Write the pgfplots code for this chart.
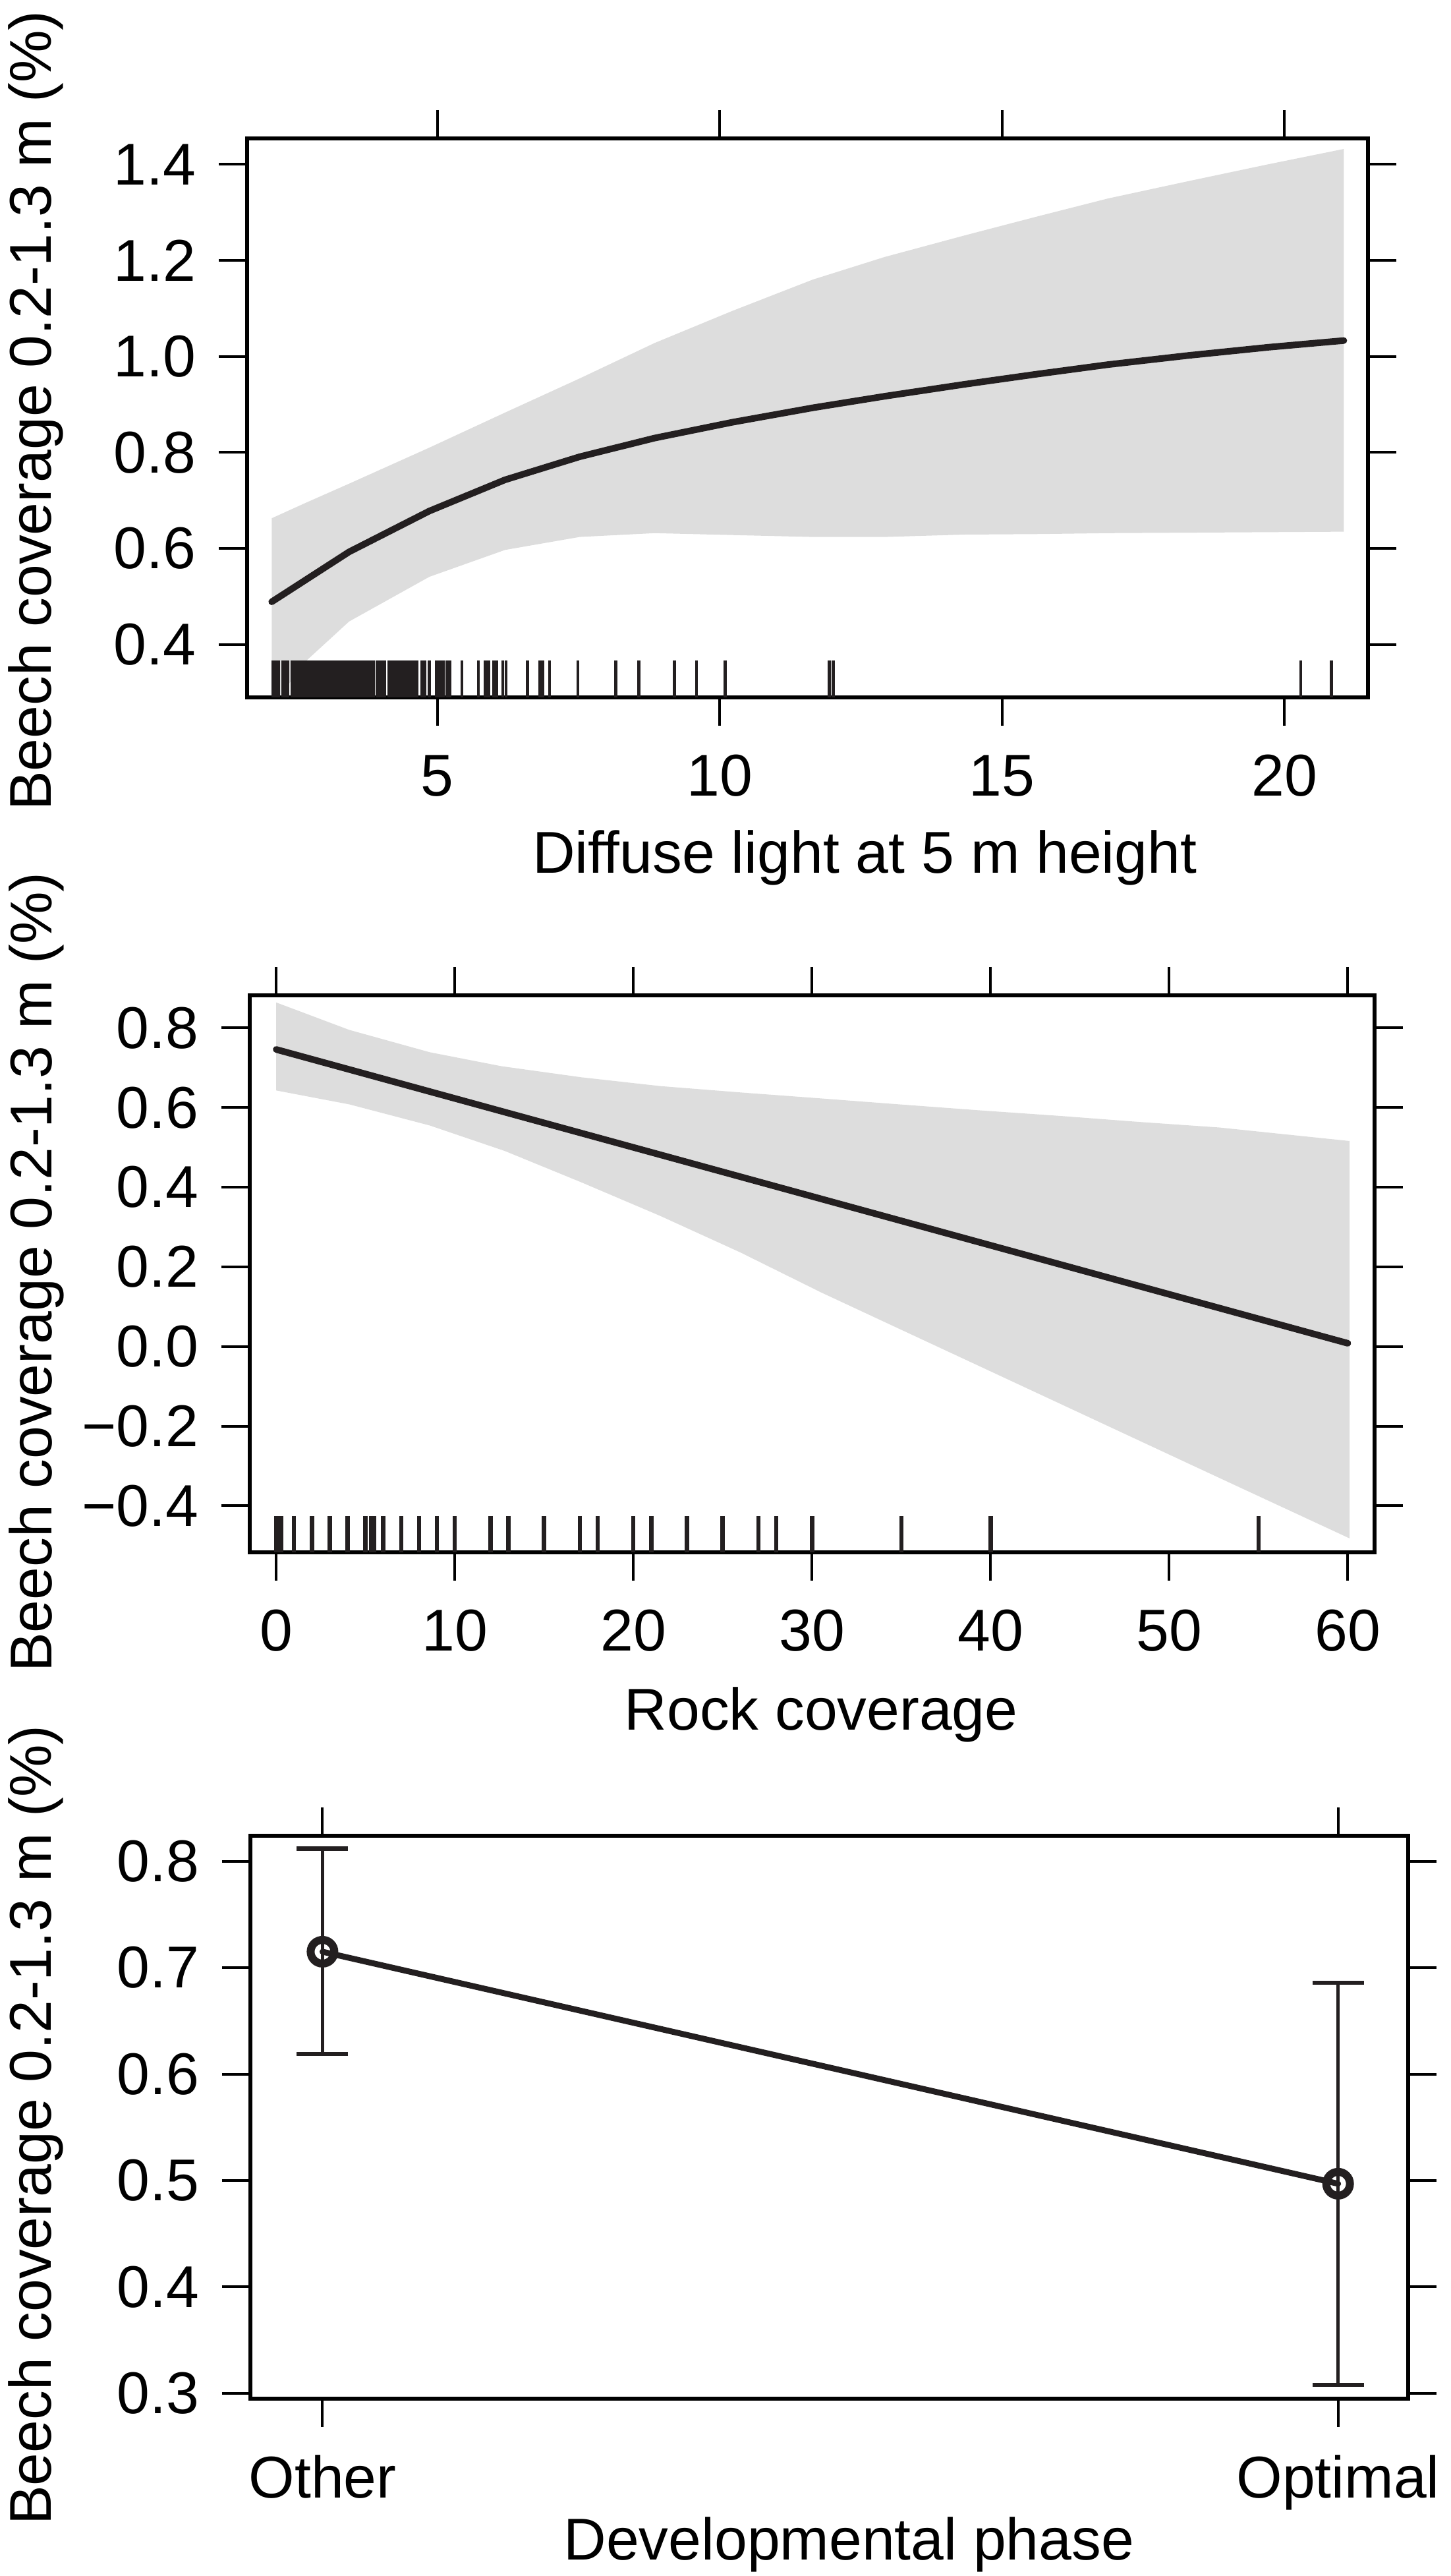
\documentclass[border=0pt]{standalone}
\usepackage{fontspec}
\setmainfont{Liberation Sans}
\usepackage{pgfplots}
\usepackage{pgfplotstable}
\pgfplotsset{compat=1.18}

\definecolor{band}{RGB}{221,221,221}
\definecolor{curve}{RGB}{35,31,32}

\pgfplotstableread{
x y
2.07 0.489
3.44 0.593
4.86 0.678
6.20 0.743
7.52 0.791
8.85 0.830
10.23 0.863
11.65 0.893
12.92 0.917
14.34 0.942
15.61 0.963
16.88 0.983
18.30 1.002
19.71 1.019
21.05 1.033
}\lightfit

% band polygon: upper edge forward, lower edge backward
\pgfplotstableread{
x y
2.07 0.663
2.67 0.695
3.44 0.735
4.86 0.810
6.20 0.883
7.52 0.954
8.85 1.028
10.23 1.095
11.65 1.160
12.92 1.207
14.34 1.252
15.61 1.291
16.88 1.329
18.30 1.365
19.71 1.400
21.05 1.432
21.05 0.635
19.71 0.634
18.30 0.633
16.88 0.632
15.61 0.630
14.34 0.629
12.92 0.624
11.65 0.624
10.23 0.628
8.85 0.632
7.52 0.624
6.20 0.597
4.86 0.541
3.44 0.448
2.67 0.365
2.07 0.270
}\lightband

\pgfplotstableread[row sep=\\]{
x y\\
2.09 0.328\\2.14 0.328\\2.19 0.328\\2.27 0.328\\2.31 0.328\\2.35 0.328\\2.43 0.328\\2.47 0.328\\
2.52 0.328\\2.57 0.328\\2.62 0.328\\2.67 0.328\\2.72 0.328\\2.77 0.328\\2.82 0.328\\2.87 0.328\\
2.92 0.328\\2.97 0.328\\3.02 0.328\\3.07 0.328\\3.12 0.328\\3.17 0.328\\3.22 0.328\\3.27 0.328\\
3.32 0.328\\3.37 0.328\\3.42 0.328\\3.47 0.328\\3.52 0.328\\3.57 0.328\\3.62 0.328\\3.67 0.328\\
3.72 0.328\\3.77 0.328\\3.82 0.328\\3.87 0.328\\3.93 0.328\\3.98 0.328\\4.03 0.328\\4.07 0.328\\
4.14 0.328\\4.19 0.328\\4.24 0.328\\4.29 0.328\\4.34 0.328\\4.39 0.328\\4.44 0.328\\4.49 0.328\\
4.54 0.328\\4.59 0.328\\4.64 0.328\\4.73 0.328\\4.78 0.328\\4.86 0.328\\4.98 0.328\\5.02 0.328\\
5.06 0.328\\5.11 0.328\\5.17 0.328\\5.22 0.328\\5.44 0.328\\5.73 0.328\\5.85 0.328\\5.91 0.328\\
6.00 0.328\\6.05 0.328\\6.16 0.328\\6.22 0.328\\6.60 0.328\\6.82 0.328\\6.87 0.328\\6.99 0.328\\
7.49 0.328\\8.16 0.328\\8.57 0.328\\9.20 0.328\\9.59 0.328\\10.10 0.328\\11.94 0.328\\12.01 0.328\\
20.29 0.328\\20.83 0.328\\
}\lightrug

\pgfplotstableread{
x y
0 0.746
60 0.008
}\rockfit

\pgfplotstableread{
x y
0 0.864
4.1 0.795
8.6 0.739
12.6 0.704
17.1 0.676
21.5 0.654
26.0 0.638
30.5 0.623
34.9 0.608
39.4 0.593
43.9 0.579
48.3 0.564
52.8 0.550
60.1 0.516
60.1 -0.482
52.8 -0.330
48.3 -0.236
43.9 -0.144
39.4 -0.050
34.9 0.044
30.5 0.136
26.0 0.236
21.5 0.328
17.1 0.412
12.8 0.491
8.6 0.555
4.1 0.608
0 0.643
}\rockband

\pgfplotstableread[row sep=\\]{
x y\\
0 -0.4715\\0.1 -0.4715\\0.3 -0.4715\\1 -0.4715\\2 -0.4715\\3 -0.4715\\4 -0.4715\\5 -0.4715\\
5.3 -0.4715\\5.5 -0.4715\\6 -0.4715\\7 -0.4715\\8 -0.4715\\9 -0.4715\\10 -0.4715\\12 -0.4715\\
13 -0.4715\\15 -0.4715\\17 -0.4715\\18 -0.4715\\20 -0.4715\\21 -0.4715\\23 -0.4715\\25 -0.4715\\
27 -0.4715\\28 -0.4715\\30 -0.4715\\35 -0.4715\\40 -0.4715\\55 -0.4715\\
}\rockrug

\pgfplotstableread{
x y ep em
1 0.715 0.097 0.096
2 0.497 0.189 0.189
}\phase

\pgfplotsset{
  rpanel/.style={
    scale only axis,
    axis line style={line width=1.1pt},
    every tick/.style={line width=0.8pt, black},
    tick align=outside,
    major tick length=8.6pt,
    xtick pos=both, ytick pos=both,
    xticklabel pos=lower, yticklabel pos=left,
    tick label style={font=\fontsize{17.9}{21}\selectfont},
    label style={font=\fontsize{17.9}{21}\selectfont},
    /pgf/number format/assume math mode=true,
    xticklabel style={anchor=base, yshift=-21.4pt},
    yticklabel style={anchor=east, xshift=-3.4pt},
    ylabel={Beech coverage 0.2-1.3 m (\%)},
    axis on top,
  },
}

\begin{document}
\begin{tikzpicture}
\useasboundingbox (0,0) rectangle (440.4pt,781.6pt);

% ---------- Panel 1 ----------
\begin{axis}[rpanel,
  at={(75.0pt,570.0pt)}, anchor=south west,
  width=340.2pt, height=169.6pt,
  xmin=1.634, xmax=21.478, ymin=0.29, ymax=1.454,
  xtick={5,10,15,20},
  ytick={0.4,0.6,0.8,1.0,1.2,1.4},
  yticklabels={0.4,0.6,0.8,1.0,1.2,1.4},
  xlabel={Diffuse light at 5 m height},
  xlabel style={at={(axis description cs:0.551,0)}, anchor=base, yshift=-53.4pt},
  ylabel style={at={(axis description cs:-0.1746,0.513)}, anchor=base},
]
\addplot[fill=band, draw=none] table[x=x, y=y] {\lightband} -- cycle;
\addplot[curve, line width=2pt, line cap=round, line join=round] table[x=x, y=y] {\lightfit};
\addplot[only marks, mark=|, mark size=5.6pt, mark options={line width=0.9pt, curve}]
  table[x=x, y=y] {\lightrug};
\end{axis}

% ---------- Panel 2 ----------
\begin{axis}[rpanel,
  at={(75.8pt,310.6pt)}, anchor=south west,
  width=341.4pt, height=169.0pt,
  xmin=-1.48, xmax=61.5, ymin=-0.517, ymax=0.882,
  xtick={0,10,20,30,40,50,60},
  ytick={-0.4,-0.2,0,0.2,0.4,0.6,0.8},
  yticklabels={−0.4,−0.2,0.0,0.2,0.4,0.6,0.8},
  xlabel={Rock coverage},
  xlabel style={at={(axis description cs:0.508,0)}, anchor=base, yshift=-54pt},
  ylabel style={at={(axis description cs:-0.1763,0.503)}, anchor=base},
]
\addplot[fill=band, draw=none] table[x=x, y=y] {\rockband} -- cycle;
\addplot[curve, line width=2pt, line cap=round] table[x=x, y=y] {\rockfit};
\addplot[only marks, mark=|, mark size=5.5pt, mark options={line width=1.3pt, curve}]
  table[x=x, y=y] {\rockrug};
\end{axis}

% ---------- Panel 3 ----------
\begin{axis}[rpanel,
  at={(76.0pt,53.8pt)}, anchor=south west,
  width=351.4pt, height=170.8pt,
  xmin=0.929, xmax=2.069, ymin=0.295, ymax=0.824,
  xtick={1,2}, xticklabels={Other,Optimal},
  ytick={0.3,0.4,0.5,0.6,0.7,0.8},
  yticklabels={0.3,0.4,0.5,0.6,0.7,0.8},
  xlabel={Developmental phase},
  xlabel style={at={(axis description cs:0.517,0)}, anchor=base, yshift=-48.8pt},
  ylabel style={at={(axis description cs:-0.1719,0.486)}, anchor=base},
]
\addplot[curve, line width=1.8pt, line cap=round,
  mark=o, mark size=3.6pt, mark options={line width=2.4pt, solid},
  error bars/.cd, y dir=both, y explicit,
  error mark=|, error mark options={mark size=7.8pt, line width=1.3pt, curve},
  error bar style={line width=1pt, curve}]
  table[x=x, y=y, y error plus=ep, y error minus=em] {\phase};
\end{axis}
\end{tikzpicture}
\end{document}
